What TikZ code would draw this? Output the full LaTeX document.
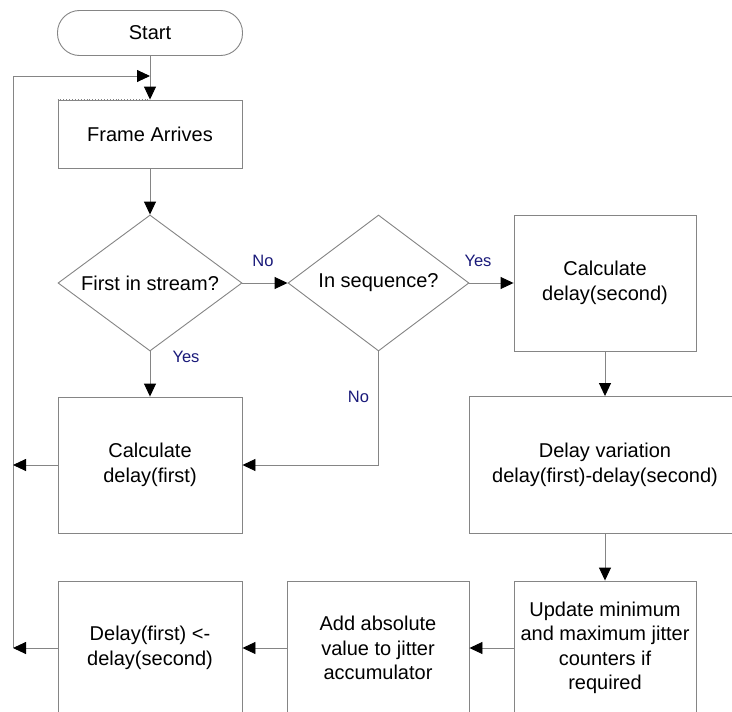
\documentclass[tikz,border=0pt]{standalone}
\usepackage{fontspec}
\setmainfont{Liberation Sans}
\usetikzlibrary{arrows.meta,shapes.geometric}
\definecolor{linegray}{HTML}{858585}
\definecolor{labnavy}{HTML}{1A1A7A}
\begin{document}
\begin{tikzpicture}[x=1pt,y=-1pt,
  every node/.style={font=\fontsize{20}{24.5}\selectfont, text=black},
  box/.style={draw=linegray, line width=0.9pt, rectangle, align=center, inner sep=0pt},
  term/.style={draw=linegray, line width=0.9pt, rectangle, rounded corners=22pt, inner sep=0pt, minimum width=185pt, minimum height=45pt},
  decision/.style={draw=linegray, line width=0.9pt, diamond, inner sep=0pt, aspect=1.36, minimum width=184pt, minimum height=136pt},
  conn/.style={draw=linegray, line width=0.9pt, -{Triangle[length=13pt,width=12pt,color=black,fill=black]}},
  lab/.style={font=\fontsize{16.5}{19}\selectfont, text=labnavy, inner sep=0pt}]
\clip (0,0) rectangle (732,712);
\fill[white] (0,0) rectangle (732,712);
% nodes
\node[term] (start) at (150,33) {Start};
\node[box, minimum width=184pt, minimum height=68pt] (frame) at (150,134) {Frame Arrives};
\node[decision] (d1) at (150,283) {First in stream?};
\node[decision, minimum width=181pt] (d2) at (378.5,283) {In sequence?};
\node[box, minimum width=182pt, minimum height=136pt] (c2) at (605,283) {Calculate\\delay(second)};
\node[box, minimum width=184pt, minimum height=136pt] (c1) at (150,465) {Calculate\\delay(first)};
\node[box, minimum width=272pt, minimum height=137pt] (dv) at (605,465) {Delay variation\\delay(first)-delay(second)};
\node[box, minimum width=182pt, minimum height=134pt] (up) at (605,648) {Update minimum\\and maximum jitter\\counters if\\required};
\node[box, minimum width=182pt, minimum height=134pt] (add) at (378,648) {Add absolute\\value to jitter\\accumulator};
\node[box, minimum width=184pt, minimum height=134pt] (df) at (150,648) {Delay(first) <-\\delay(second)};
% dotted look on the left half of the Frame Arrives top edge
\draw[white, line width=1.2pt] (frame.north west) -- (frame.north);
\draw[linegray, line width=0.9pt, dotted] (frame.north west) -- (frame.north);
% loop coordinates
\coordinate (lb) at (13,648);
\coordinate (lm) at (13,465);
\coordinate (lt) at (13,76);
\coordinate (jt) at (150,76);
% connectors
\draw[conn] (start.south) -- (frame.north);
\draw[conn] (lb) -- (lt) -- (jt);
\draw[conn] (frame.south) -- (d1.north);
\draw[conn] (d1.east) -- (d2.west);
\draw[conn] (d2.east) -- (c2.west);
\draw[conn] (d1.south) -- (c1.north);
\draw[conn] (d2.south) |- (c1.east);
\draw[conn] (c2.south) -- (dv.north);
\draw[conn] (dv.south) -- (up.north);
\draw[conn] (up.west) -- (add.east);
\draw[conn] (add.west) -- (df.east);
\draw[conn] (df.west) -- (lb);
\draw[conn] (c1.west) -- (lm);
% labels
\node[lab] (lno1) at (263,261) {No};
\node[lab] (lyes1) at (478,261) {Yes};
\node[lab] (lyes2) at (186,357) {Yes};
\node[lab] (lno2) at (358.5,397) {No};
\end{tikzpicture}
\end{document}
